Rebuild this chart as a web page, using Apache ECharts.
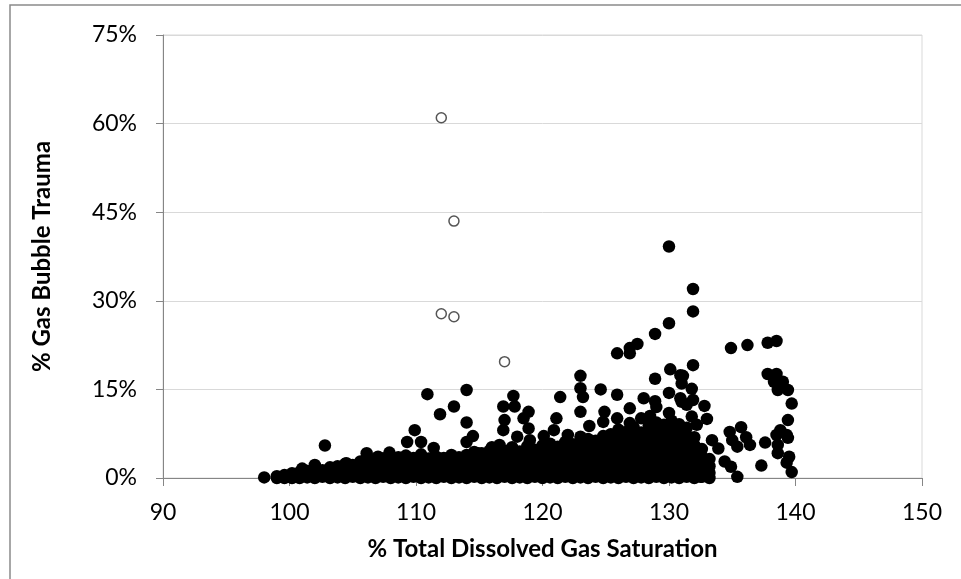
<!DOCTYPE html>
<html><head><meta charset="utf-8">
<script src="https://cdn.jsdelivr.net/npm/echarts@6/dist/echarts.min.js"></script>
<style>html,body{margin:0;padding:0;background:#fff}#c{width:961px;height:579px}</style>
</head><body><div id="c"></div>
<script>
// % Total Dissolved Gas Saturation (x) vs % Gas Bubble Trauma (y, in percent)
const xRange = [90, 150];
const xStep = 10;
const yRange = [0, 75];
const yStep = 15;
const xTitle = '% Total Dissolved Gas Saturation';
const yTitle = '% Gas Bubble Trauma';

// dense band of observations near the x axis (read column by column)
const denseCluster = [
  [99.0,0],[99.0,0.3],[99.6,0],[99.6,0.5],
  [100.2,0],[100.2,0.2],[100.2,0.8],[100.8,0],[100.8,0.6],[100.8,1.0],
  [101.4,0.1],[101.4,0.5],[101.4,1.2],[102.0,0],[102.0,0.4],[102.0,1.0],[102.0,1.6],
  [102.6,0.2],[102.6,0.8],[102.6,1.3],[103.2,0],[103.2,0.5],[103.2,1.0],[103.2,1.8],
  [103.8,0.1],[103.8,0.7],[103.8,1.4],[103.8,2.0],[104.4,0],[104.4,0.4],[104.4,1.1],[104.4,1.7],[104.4,2.4],
  [105.0,0.2],[105.0,0.9],[105.0,1.5],[105.0,2.2],[105.6,0],[105.6,0.6],[105.6,1.3],[105.6,2.0],[105.6,2.8],
  [106.2,0.1],[106.2,0.8],[106.2,1.6],[106.2,2.5],[106.2,3.4],[106.8,0],[106.8,0.5],[106.8,1.2],[106.8,2.0],[106.8,2.9],
  [107.4,0.2],[107.4,0.9],[107.4,1.7],[107.4,2.6],[107.4,3.3],[108.0,0],[108.0,0.6],[108.0,1.4],[108.0,2.2],[108.0,3.0],
  [108.6,0.1],[108.6,0.8],[108.6,1.6],[108.6,2.5],[108.6,3.5],[109.2,0],[109.2,0.5],[109.2,1.3],[109.2,2.1],[109.2,3.0],[109.2,3.8],
  [109.8,0.2],[109.8,0.9],[109.8,1.7],[109.8,2.6],[109.8,3.4],[110.4,0],[110.4,0.6],[110.4,1.4],[110.4,2.3],[110.4,3.2],[110.4,4.0],
  [111.0,0.1],[111.0,0.8],[111.0,1.6],[111.0,2.4],[111.0,3.3],[111.6,0],[111.6,0.5],[111.6,1.2],[111.6,2.0],[111.6,2.8],[111.6,3.6],
  [112.2,0.2],[112.2,0.9],[112.2,1.7],[112.2,2.5],[112.2,3.4],[112.8,0],[112.8,0.7],[112.8,1.5],[112.8,2.3],[112.8,3.1],[112.8,3.9],
  [113.4,0.1],[113.4,0.8],[113.4,1.6],[113.4,2.6],[113.4,3.5],[114.0,0],[114.0,0.6],[114.0,1.4],[114.0,2.2],[114.0,3.0],[114.0,3.9],
  [114.6,0.2],[114.6,0.9],[114.6,1.8],[114.6,2.7],[114.6,3.6],[114.6,4.4],[115.2,0],[115.2,0.7],[115.2,1.5],[115.2,2.4],[115.2,3.3],[115.2,4.2],
  [115.8,0.1],[115.8,0.8],[115.8,1.7],[115.8,2.6],[115.8,3.5],[115.8,4.6],[116.4,0],[116.4,0.5],[116.4,1.3],[116.4,2.2],[116.4,3.1],[116.4,4.0],[116.4,4.8],
  [117.0,0.2],[117.0,0.9],[117.0,1.8],[117.0,2.7],[117.0,3.7],[117.0,4.6],[117.6,0],[117.6,0.6],[117.6,1.5],[117.6,2.4],[117.6,3.3],[117.6,4.3],[117.6,5.2],
  [118.2,0.1],[118.2,0.8],[118.2,1.7],[118.2,2.6],[118.2,3.5],[118.2,4.5],[118.8,0],[118.8,0.7],[118.8,1.6],[118.8,2.5],[118.8,3.4],[118.8,4.4],[118.8,5.4],
  [119.4,0.2],[119.4,1.0],[119.4,1.9],[119.4,2.8],[119.4,3.8],[119.4,4.8],[120.0,0],[120.0,0.6],[120.0,1.5],[120.0,2.4],[120.0,3.4],[120.0,4.4],[120.0,5.5],
  [120.6,0.1],[120.6,0.9],[120.6,1.8],[120.6,2.7],[120.6,3.7],[120.6,4.7],[120.6,5.8],[121.2,0],[121.2,0.5],[121.2,1.4],[121.2,2.3],[121.2,3.3],[121.2,4.3],[121.2,5.3],
  [121.8,0.2],[121.8,1.0],[121.8,1.9],[121.8,2.9],[121.8,3.9],[121.8,5.0],[121.8,6.1],[122.4,0],[122.4,0.7],[122.4,1.6],[122.4,2.6],[122.4,3.6],[122.4,4.6],[122.4,5.7],
  [123.0,0.1],[123.0,0.9],[123.0,1.8],[123.0,2.8],[123.0,3.8],[123.0,4.9],[123.0,6.0],[123.0,7.0],
  [123.6,0],[123.6,0.6],[123.6,1.5],[123.6,2.5],[123.6,3.5],[123.6,4.6],[123.6,5.7],[123.6,6.6],
  [124.2,0.2],[124.2,1.0],[124.2,2.0],[124.2,3.0],[124.2,4.1],[124.2,5.2],[124.2,6.3],
  [124.8,0],[124.8,0.7],[124.8,1.6],[124.8,2.6],[124.8,3.7],[124.8,4.8],[124.8,5.9],[124.8,7.1],
  [125.4,0.1],[125.4,0.9],[125.4,1.9],[125.4,2.9],[125.4,4.0],[125.4,5.1],[125.4,6.2],[125.4,7.4],
  [126.0,0],[126.0,0.6],[126.0,1.5],[126.0,2.5],[126.0,3.6],[126.0,4.7],[126.0,5.9],[126.0,7.0],[126.0,8.2],
  [126.6,0.2],[126.6,1.0],[126.6,2.0],[126.6,3.1],[126.6,4.2],[126.6,5.4],[126.6,6.6],[126.6,7.8],
  [127.2,0],[127.2,0.7],[127.2,1.7],[127.2,2.8],[127.2,3.9],[127.2,5.0],[127.2,6.2],[127.2,7.5],[127.2,8.6],
  [127.8,0.1],[127.8,0.9],[127.8,1.9],[127.8,3.0],[127.8,4.1],[127.8,5.3],[127.8,6.5],[127.8,7.7],
  [128.4,0],[128.4,0.6],[128.4,1.6],[128.4,2.7],[128.4,3.8],[128.4,5.0],[128.4,6.3],[128.4,7.6],[128.4,8.9],
  [129.0,0.2],[129.0,1.0],[129.0,2.1],[129.0,3.2],[129.0,4.4],[129.0,5.6],[129.0,6.9],[129.0,8.2],[129.0,9.4],
  [129.6,0],[129.6,0.7],[129.6,1.7],[129.6,2.8],[129.6,4.0],[129.6,5.3],[129.6,6.6],[129.6,7.9],[129.6,9.0],
  [130.2,0.1],[130.2,0.9],[130.2,2.0],[130.2,3.1],[130.2,4.3],[130.2,5.6],[130.2,6.9],[130.2,8.3],[130.2,9.7],
  [130.8,0],[130.8,0.6],[130.8,1.6],[130.8,2.7],[130.8,3.9],[130.8,5.2],[130.8,6.5],[130.8,7.8],[130.8,9.1],
  [131.4,0.2],[131.4,1.0],[131.4,2.1],[131.4,3.3],[131.4,4.6],[131.4,5.9],[131.4,7.2],[131.4,8.5],
  [132.0,0],[132.0,0.7],[132.0,1.8],[132.0,3.0],[132.0,4.3],[132.0,5.6],[132.0,6.9],
  [132.6,0.2],[132.6,1.1],[132.6,2.3],[132.6,3.6],[132.6,4.9],[133.2,0],[133.2,0.9],[133.2,2.0],[133.2,3.2]
];

// observations standing out above the dense band
const scatteredPoints = [
  [98.0,0.1],[101.0,1.6],[102.0,2.2],[102.8,5.5],[103.5,1.4],[104.5,2.5],[106.1,4.2],[107.0,3.6],[107.9,4.3],
  [109.3,6.1],[109.9,8.1],[110.4,6.1],[111.4,5.1],[110.9,14.2],[111.9,10.8],[111.9,3.2],[113.0,12.1],[114.0,14.9],
  [114.0,9.4],[114.0,6.1],[114.5,7.1],[114.9,4.2],[116.0,5.2],[116.6,5.6],[116.9,12.1],[117.7,13.9],[117.8,12.1],
  [117.0,9.8],[116.9,8.1],[118.9,11.2],[118.5,10.1],[118.9,8.4],[118.0,7.0],[119.0,6.4],[120.1,7.1],[120.9,8.1],
  [121.1,10.1],[121.4,13.7],[122.0,7.3],[123.0,17.3],[123.0,15.2],[123.2,13.7],[123.0,11.2],[123.7,8.8],[124.6,15.0],
  [124.9,11.2],[124.8,9.5],[125.9,14.1],[125.9,10.1],[126.9,11.8],[126.9,9.3],[128.0,13.5],[127.8,10.1],[125.9,21.1],
  [126.9,21.1],[126.9,22.0],[127.5,22.7],[128.9,24.4],[130.0,26.2],[130.0,39.2],[131.9,32.0],[131.9,28.2],[131.9,19.1],
  [130.1,18.4],[128.9,16.8],[130.9,17.4],[131.1,17.3],[131.0,16.0],[131.8,15.1],[130.0,14.4],[128.9,13.0],[131.0,12.9],
  [131.9,13.2],[132.8,12.2],[133.0,10.0],[131.4,12.4],[130.9,13.5],[131.8,10.4],[132.2,9.0],[129.0,12.0],[130.0,11.0],
  [128.5,10.5],[134.9,22.0],[136.2,22.5],[137.8,22.9],[138.5,23.2],[137.8,17.6],[138.5,17.6],[138.3,16.3],[138.8,15.9],
  [139.0,16.3],[139.4,14.9],[138.6,14.9],[139.7,12.6],[134.8,7.8],[135.7,8.6],[136.1,6.9],[135.0,6.4],[135.4,5.3],
  [136.4,5.6],[133.4,6.4],[133.9,5.0],[134.4,2.8],[134.9,1.9],[135.4,0.2],[133.0,2.3],[132.5,0.2],[137.3,2.1],
  [137.6,6.0],[139.4,9.8],[138.8,8.1],[139.3,7.3],[138.5,7.3],[139.4,6.8],[138.6,5.6],[138.6,4.2],[139.5,3.6],
  [139.3,2.6],[139.7,1.0]
];

// hollow markers
const openPoints = [[112.0,61.0],[113.0,43.5],[112.0,27.8],[113.0,27.3],[117.0,19.7]];

const FONT = 'Lato';
const axisGray = '#868686';
const gridGray = '#d9d9d9';

const chart = echarts.init(document.getElementById('c'), null, {renderer: 'canvas'});
chart.setOption({
  animation: false,
  backgroundColor: '#ffffff',
  grid: {left: 163, right: 39, top: 35, bottom: 101, show: true, borderColor: gridGray, borderWidth: 1, backgroundColor: 'transparent'},
  xAxis: {
    type: 'value', min: xRange[0], max: xRange[1], interval: xStep,
    name: xTitle, nameLocation: 'middle', nameGap: 59,
    nameTextStyle: {fontFamily: FONT, fontWeight: 'bold', fontSize: 24, color: '#000'},
    axisLine: {show: true, lineStyle: {color: axisGray, width: 1}},
    axisTick: {show: true, inside: false, length: 8, lineStyle: {color: axisGray}},
    axisLabel: {fontFamily: FONT, fontSize: 23, color: '#000', margin: 23},
    splitLine: {show: false}
  },
  yAxis: {
    type: 'value', min: yRange[0], max: yRange[1], interval: yStep,
    name: yTitle, nameLocation: 'middle', nameGap: 109, nameRotate: 90,
    nameTextStyle: {fontFamily: FONT, fontWeight: 'bold', fontSize: 24, color: '#000'},
    axisLine: {show: true, lineStyle: {color: axisGray, width: 1}},
    axisTick: {show: true, inside: false, length: 7, lineStyle: {color: axisGray}},
    axisLabel: {fontFamily: FONT, fontSize: 23, color: '#000', margin: 26, formatter: '{value}%'},
    splitLine: {show: true, lineStyle: {color: gridGray, width: 1}}
  },
  graphic: [{
    type: 'rect', shape: {x: 10, y: 5, width: 980, height: 620},
    style: {fill: 'none', stroke: '#8a8a8a', lineWidth: 1.5}, silent: true, z: 100
  }],
  series: [
    {type: 'scatter', data: denseCluster, symbol: 'circle', symbolSize: 12.5,
     itemStyle: {color: '#000', opacity: 1}, z: 2},
    {type: 'scatter', data: scatteredPoints, symbol: 'circle', symbolSize: 12.5,
     itemStyle: {color: '#000', opacity: 1}, z: 2},
    {type: 'scatter', data: openPoints, symbol: 'circle', symbolSize: 10,
     itemStyle: {color: '#fff', borderColor: '#555', borderWidth: 1.5, opacity: 1}, z: 3}
  ]
});
</script>
</body></html>
